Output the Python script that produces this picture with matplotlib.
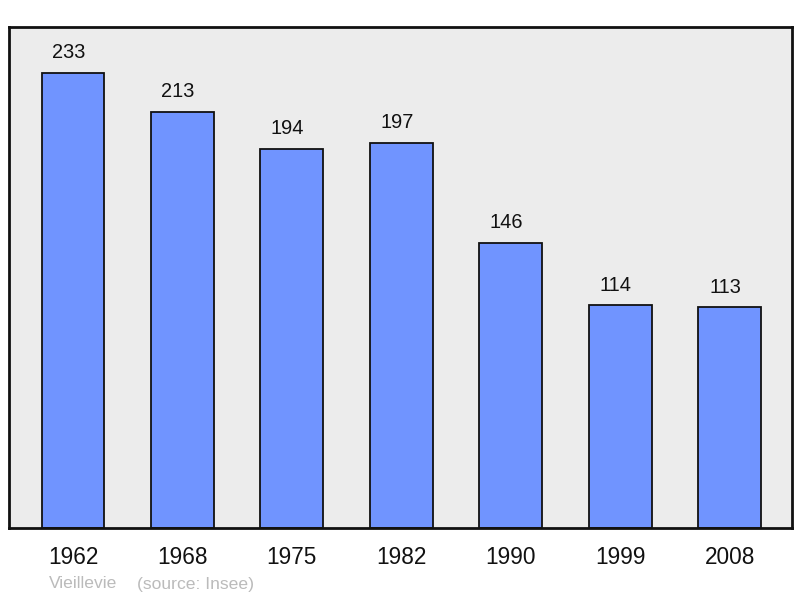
import matplotlib
matplotlib.use("Agg")
import matplotlib.pyplot as plt

years = ["1962", "1968", "1975", "1982", "1990", "1999", "2008"]
population = [233, 213, 194, 197, 146, 114, 113]
commune = "Vieillevie"
source = "(source: Insee)"

plt.rcParams['font.family'] = ['Liberation Sans', 'DejaVu Sans']

fig = plt.figure(figsize=(8.0, 5.98), dpi=100)
ax = fig.add_axes([9/800, 1 - 528/598, (792-9)/800, (528-27)/598])
ax.set_facecolor('#ececec')
x = list(range(len(years)))
ax.bar(x, population, width=0.575, color='#7094ff', edgecolor='#111111', linewidth=1.3, zorder=2)
for xi, v in zip(x, population):
    ax.annotate(str(v), (xi, v), xytext=(-3.2, 14.6), textcoords='offset points',
                ha='center', va='center', fontsize=14.4, color='#111111')
ax.set_xlim(-0.585, 6.57)
ax.set_ylim(0, 256.5)
ax.set_yticks([])
ax.set_xticks(x)
ax.set_xticklabels(years, fontsize=16.3, color='#111111')
ax.tick_params(axis='x', length=0, pad=13)
for s in ax.spines.values():
    s.set_linewidth(2)
    s.set_color('#111111')
fig.text(49/800, 1 - 584/598, commune, fontsize=12.6, color='#bbbbbb', ha='left', va='center')
fig.text(137/800, 1 - 584/598, source, fontsize=12.6, color='#bbbbbb', ha='left', va='center')
fig.savefig('out.png', dpi=100)
